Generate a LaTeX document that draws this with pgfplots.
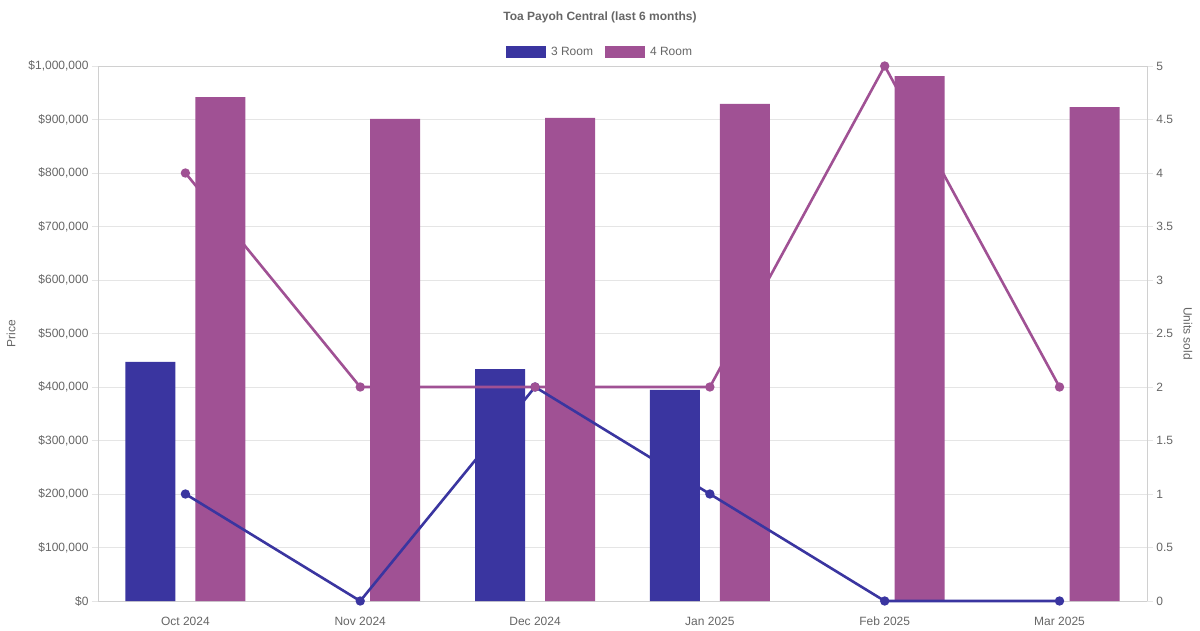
\documentclass[border=0pt]{standalone}
\usepackage{pgfplots}
\pgfplotsset{compat=1.18}
\usepackage{fontspec}
\setmainfont{Liberation Sans}
\definecolor{cthree}{HTML}{3A35A0}
\definecolor{cfour}{HTML}{A05194}
\definecolor{tgray}{HTML}{666666}
\definecolor{ggray}{HTML}{E5E5E5}
\definecolor{agray}{HTML}{D0D0D0}
\begin{document}
\begin{tikzpicture}[x=1pt,y=1pt]
\useasboundingbox (0,0) rectangle (1200,630);
\fill[white] (0,0) rectangle (1200,630);
\begin{axis}[
  at={(98pt,29pt)}, anchor=south west,
  width=1049pt, height=535pt, scale only axis,
  xmin=-0.5, xmax=5.5, ymin=0, ymax=1000000,
  axis line style={agray},
  xtick={0,1,2,3,4,5},
  xticklabels={Oct 2024,Nov 2024,Dec 2024,Jan 2025,Feb 2025,Mar 2025},
  xtick style={draw=none},
  xticklabel style={font=\fontsize{12}{14}\selectfont, text=tgray, anchor=north, text height=9pt, text depth=2pt, yshift=-6pt},
  ytick={0,100000,200000,300000,400000,500000,600000,700000,800000,900000,1000000},
  yticklabels={\$0,\$100{,}000,\$200{,}000,\$300{,}000,\$400{,}000,\$500{,}000,\$600{,}000,\$700{,}000,\$800{,}000,\$900{,}000,\$1{,}000{,}000},
  ytick pos=left,
  tick align=outside,
  major tick length=6pt,
  ytick style={ggray},
  yticklabel style={font=\fontsize{12}{14}\selectfont, text=tgray},
  ymajorgrids, grid style={ggray},
  ylabel={Price},
  ylabel style={at={(axis description cs:-0.0829,0.5)}, anchor=center, font=\fontsize{12}{14}\selectfont, text=tgray},
  scaled y ticks=false,
  legend style={at={(0.4786,1)}, anchor=center, yshift=14pt, draw=none, fill=none,
    font=\fontsize{12}{14}\selectfont, text=tgray, legend columns=2,
    /tikz/every odd column/.append style={column sep=3pt},
    /tikz/every even column/.append style={column sep=10pt}},
  legend image code/.code={\fill[#1] (0pt,-6pt) rectangle (40pt,6pt);},
]
\addplot[ybar, bar width=50pt, bar shift=-35pt, fill=cthree, draw=none]
  coordinates {(0,447000) (2,433500) (3,394500)};
\addlegendentry{3 Room}
\addplot[ybar, bar width=50pt, bar shift=35pt, fill=cfour, draw=none]
  coordinates {(0,942000) (1,901000) (2,903000) (3,929000) (4,981000) (5,923000)};
\addlegendentry{4 Room}
\end{axis}
\begin{axis}[
  at={(98pt,29pt)}, anchor=south west,
  width=1049pt, height=535pt, scale only axis,
  xmin=-0.5, xmax=5.5, ymin=0, ymax=5,
  axis x line=none,
  axis y line*=right,
  axis line style={agray},
  ytick={0,0.5,1,1.5,2,2.5,3,3.5,4,4.5,5},
  yticklabels={0,0.5,1,1.5,2,2.5,3,3.5,4,4.5,5},
  tick align=outside,
  major tick length=6pt,
  ytick style={ggray},
  yticklabel style={font=\fontsize{12}{14}\selectfont, text=tgray},
  ylabel={Units sold},
  ylabel style={at={(axis description cs:1.039,0.5)}, anchor=center, rotate=180, font=\fontsize{12}{14}\selectfont, text=tgray},
  clip=false,
]
\addplot[cthree, line width=2.6pt, mark=*, mark size=3.3pt, mark options={fill=cthree, draw=none}]
  coordinates {(0,1) (1,0) (2,2) (3,1) (4,0) (5,0)};
\addplot[cfour, line width=2.6pt, mark=*, mark size=3.3pt, mark options={fill=cfour, draw=none}]
  coordinates {(0,4) (1,2) (2,2) (3,2) (4,5) (5,2)};
\end{axis}
\node[text=tgray, font=\bfseries\fontsize{12}{14}\selectfont] at (600,613) {Toa Payoh Central (last 6 months)};
\end{tikzpicture}
\end{document}
